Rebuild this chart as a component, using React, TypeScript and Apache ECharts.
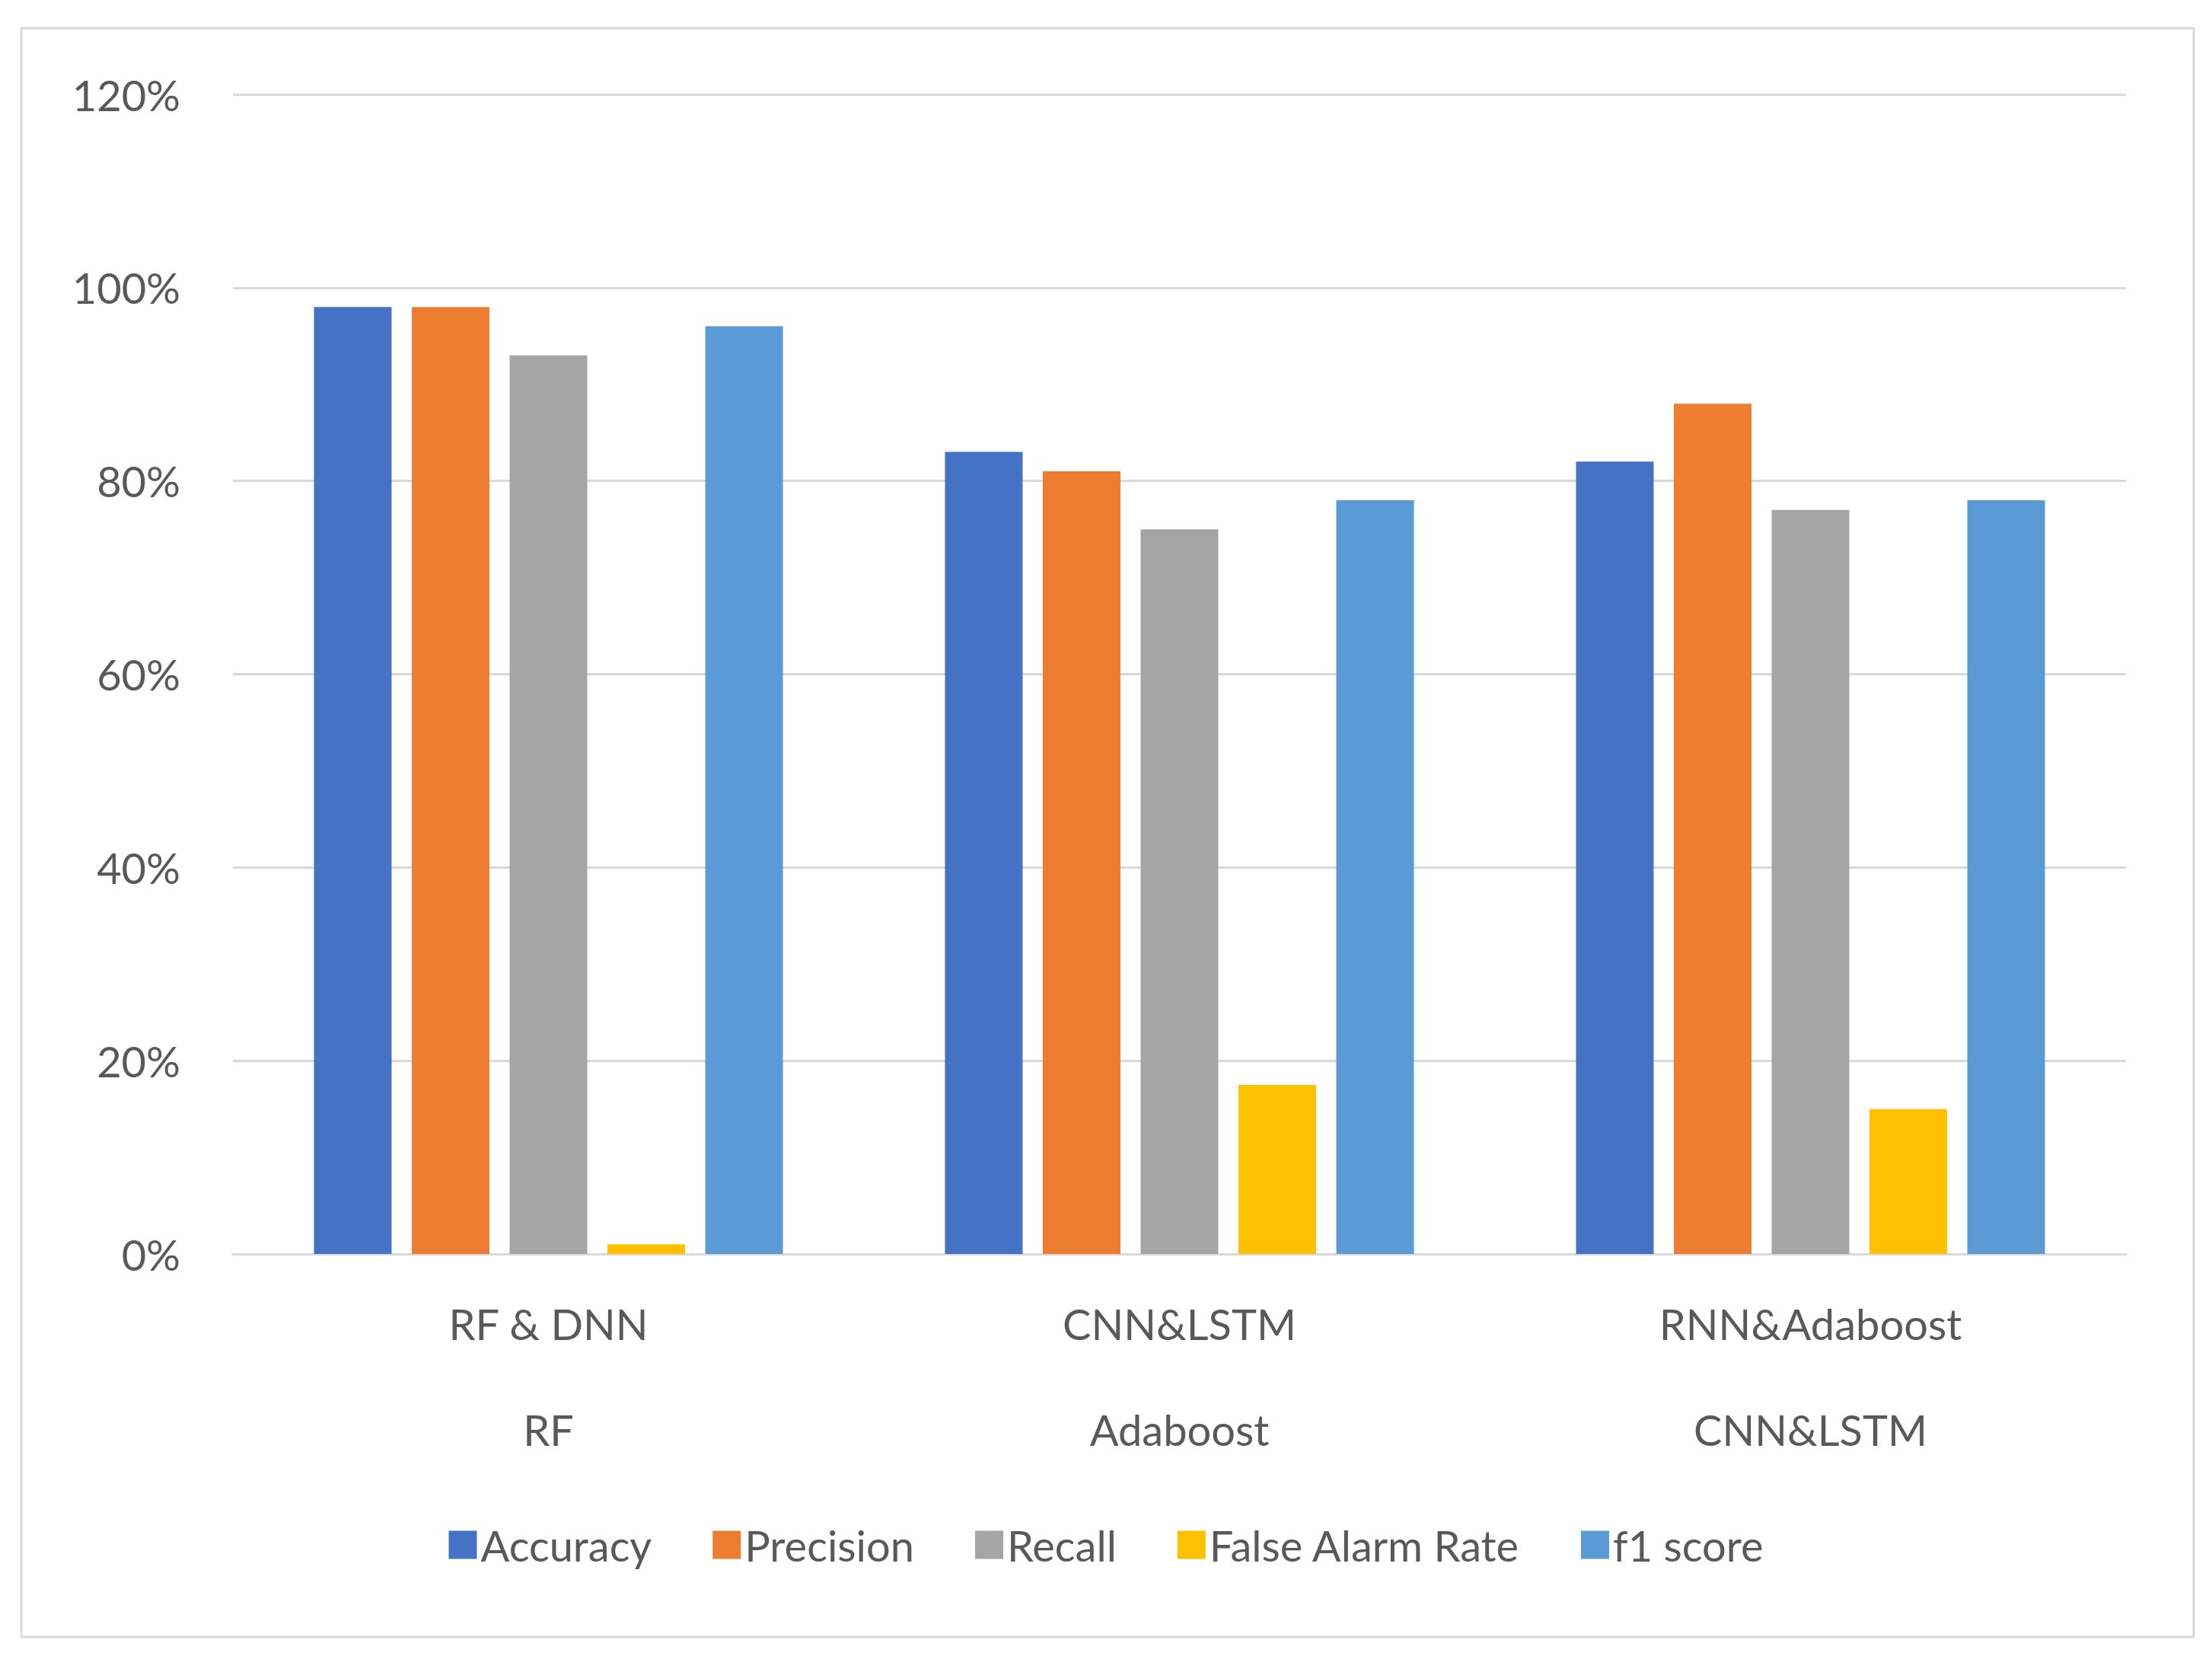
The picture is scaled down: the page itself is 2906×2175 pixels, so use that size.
import React, { useRef, useEffect } from 'react'
import * as echarts from 'echarts'

const categories = ['RF & DNN', 'CNN&LSTM', 'RNN&Adaboost']
const subCategories = ['RF', 'Adaboost', 'CNN&LSTM']
const accuracy = [0.98, 0.83, 0.82]
const precision = [0.98, 0.81, 0.88]
const recall = [0.93, 0.75, 0.77]
const falseAlarmRate = [0.01, 0.175, 0.15]
const f1Score = [0.96, 0.78, 0.78]

const FONT = 'Lato, "Open Sans", sans-serif'

function App() {
  const chartRef = useRef(null)

  useEffect(() => {
    const chart = echarts.init(chartRef.current, null, { renderer: 'svg' })

    const mk = (name: string, data: number[], color: string) => ({
      name,
      type: 'bar',
      data,
      barWidth: 102,
      barGap: '26%',
      itemStyle: { color },
    })

    const option = {
      animation: false,
      backgroundColor: '#ffffff',
      textStyle: { fontFamily: FONT },
      graphic: [
        {
          type: 'rect',
          shape: { x: 28, y: 37, width: 2854, height: 2113 },
          style: { fill: 'none', stroke: '#d9d9d9', lineWidth: 3 },
          silent: true,
        },
      ],
      grid: { left: 306, right: 113, top: 124, bottom: 528 },
      legend: {
        top: 1996,
        left: 'center',
        itemWidth: 37,
        itemHeight: 37,
        itemGap: 80,
        icon: 'rect',
        textStyle: { fontSize: 56, color: '#595959', fontFamily: FONT },
      },
      xAxis: {
        type: 'category',
        data: categories,
        axisLine: { lineStyle: { color: '#d9d9d9', width: 3 } },
        axisTick: { length: 276, lineStyle: { color: '#d9d9d9', width: 3 } },
        axisLabel: {
          margin: 22,
          formatter: (v: string, i: number) => `{a|${v}}\n{a|${subCategories[i]}}`,
          rich: {
            a: { fontSize: 56, lineHeight: 139, color: '#595959', fontFamily: FONT },
          },
        },
      },
      yAxis: {
        type: 'value',
        min: 0,
        max: 1.2,
        interval: 0.2,
        axisLine: { show: false },
        axisTick: { show: false },
        splitLine: { lineStyle: { color: '#d9d9d9', width: 3 } },
        axisLabel: {
          margin: 69,
          fontSize: 56,
          color: '#595959',
          fontFamily: FONT,
          formatter: (v: number) => `${Math.round(v * 100)}%`,
        },
      },
      series: [
        mk('Accuracy', accuracy, '#4472C4'),
        mk('Precision', precision, '#ED7D31'),
        mk('Recall', recall, '#A5A5A5'),
        mk('False Alarm Rate', falseAlarmRate, '#FFC000'),
        mk('f1 score', f1Score, '#5B9BD5'),
      ],
    }

    chart.setOption(option)
    return () => {
      chart.dispose()
    }
  }, [])

  return (
    <div
      ref={chartRef}
      style={{ position: 'fixed', left: 0, top: 0, width: 2906, height: 2175 }}
    ></div>
  )
}

export default App
